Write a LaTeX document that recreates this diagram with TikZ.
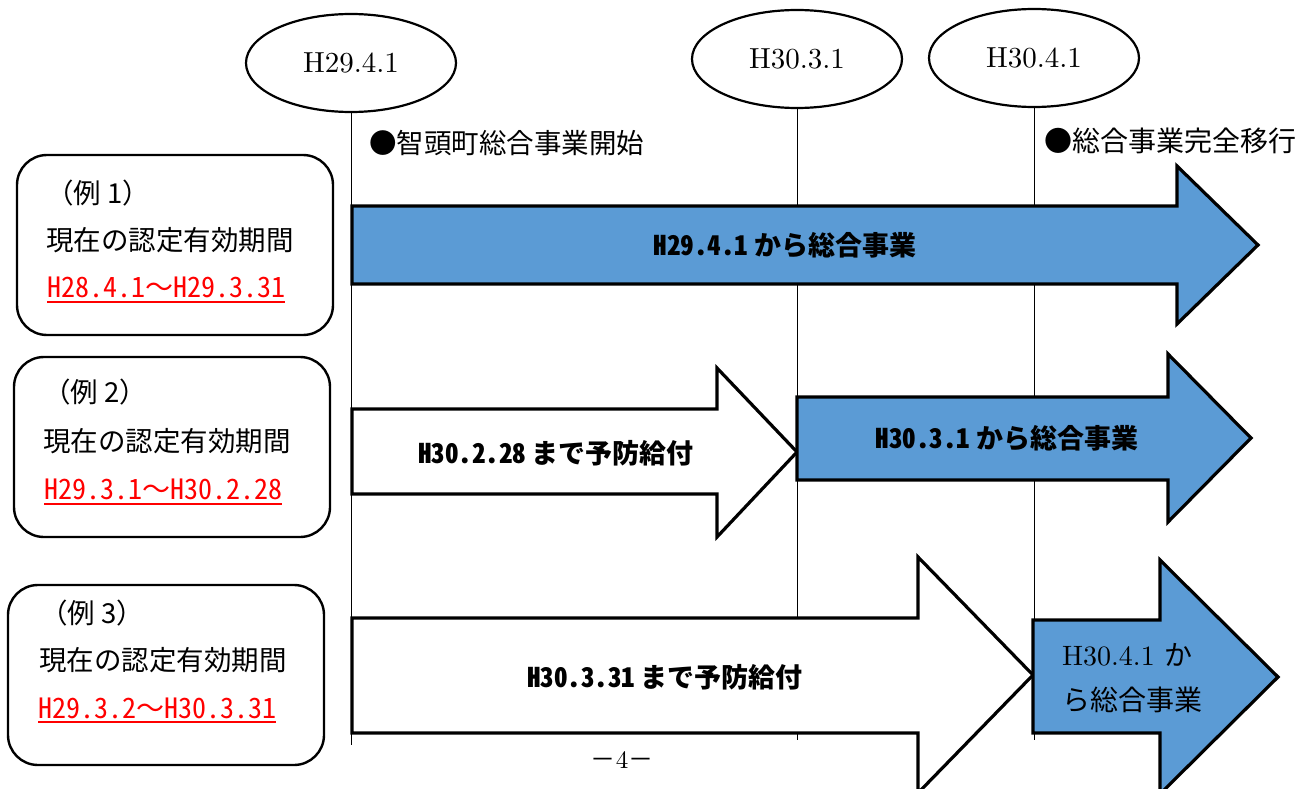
\documentclass[tikz,border=0pt]{standalone}
\usepackage{fontspec}
\newfontfamily\jp{Noto Sans CJK JP}
\newfontfamily\jphw[CharacterWidth=Half]{Noto Sans CJK JP}
\newfontfamily\lmten{lmroman10-regular.otf}
\usetikzlibrary{shapes.geometric}

\definecolor{barblue}{RGB}{91,155,213}
\definecolor{datered}{RGB}{255,0,0}

\tikzset{
	dateoval/.style={ellipse, draw, line width=2.2pt, minimum width=210pt, minimum height=98pt, inner sep=0pt, font=\lmten\fontsize{29}{34}\selectfont},
	tline/.style={line width=0.9pt},
	casebox/.style={draw, rounded corners=30pt, line width=2.4pt, minimum width=316pt, minimum height=180pt},
	boxtext/.style={anchor=west, inner sep=0pt, font=\jp\fontsize{27.5}{32}\selectfont},
	periodtext/.style={anchor=west, inner sep=0pt, text=datered, font=\jphw\fontsize{28}{32}\selectfont},
	periodline/.style={datered, line width=1.8pt},
	bluearrow/.style={draw, line width=3.2pt, fill=barblue},
	whitearrow/.style={draw, line width=3.2pt, fill=white},
	barlabel/.style={inner sep=0pt, font=\jphw\bfseries\fontsize{27}{32}\selectfont},
	headtext/.style={anchor=west, inner sep=0pt}
}

\begin{document}
\begin{tikzpicture}[x=1pt, y=-1pt]
	\useasboundingbox (0,0) rectangle (1310,789);
	
	\node[dateoval] (t1) at (351,63) {H29.4.1};
	\node[dateoval] (t2) at (797,59) {H30.3.1};
	\node[dateoval] (t3) at (1034,58) {H30.4.1};
	
	\coordinate (t1end) at (351,745);
	\coordinate (t2end) at (797,740);
	\coordinate (t3end) at (1034,740);
	\draw[tline] (t1.south) -- (t1end);
	\draw[tline] (t2.south) -- (t2end);
	\draw[tline] (t3.south) -- (t3end);
	
	\node[headtext, font=\jp\fontsize{27.5}{32}\selectfont] (start) at (369,143) {●智頭町総合事業開始};
	\node[headtext, font=\jp\fontsize{28}{34}\selectfont] (full) at (1044,141) {●総合事業完全移行};
	
	\node[casebox] (ex1) at (175,245) {};
	\node[boxtext] (ex1a) at (46,193) {（例 1）};
	\node[boxtext] (ex1b) at (46,240) {現在の認定有効期間};
	\node[periodtext] (ex1c) at (47,287) {H28.4.1{\jp ～}H29.3.31};
	\draw[periodline] ([yshift=-15pt]ex1c.west) -- ([yshift=-15pt]ex1c.east);
	
	\node[casebox] (ex2) at (172,447) {};
	\node[boxtext] (ex2a) at (43,392) {（例 2）};
	\node[boxtext] (ex2b) at (43,441) {現在の認定有効期間};
	\node[periodtext] (ex2c) at (44,489) {H29.3.1{\jp ～}H30.2.28};
	\draw[periodline] ([yshift=-15pt]ex2c.west) -- ([yshift=-15pt]ex2c.east);
	
	\node[casebox] (ex3) at (166,675) {};
	\node[boxtext] (ex3a) at (40,613) {（例 3）};
	\node[boxtext] (ex3b) at (39,660) {現在の認定有効期間};
	\node[periodtext] (ex3c) at (38,708) {H29.3.2{\jp ～}H30.3.31};
	\draw[periodline] ([yshift=-14pt]ex3c.west) -- ([yshift=-14pt]ex3c.east);
	
	\draw[bluearrow] (352,206) -- (1177,206) -- (1177,166) -- (1258,245) -- (1177,324) -- (1177,284) -- (352,284) -- cycle;
	\node[barlabel] (bar1) at (785,245) {H29.4.1\hspace{6pt}から総合事業};
	
	\draw[whitearrow] (352,409) -- (717,409) -- (717,368) -- (797,452) -- (717,537) -- (717,494) -- (352,494) -- cycle;
	\draw[bluearrow] (797,397) -- (1168,397) -- (1168,354) -- (1251,438) -- (1168,522) -- (1168,480) -- (797,480) -- cycle;
	\node[barlabel] (bar2a) at (556,453) {H30.2.28\hspace{6pt}まで予防給付};
	\node[barlabel] (bar2b) at (1007,438) {H30.3.1\hspace{6pt}から総合事業};
	
	\draw[whitearrow] (352,618) -- (918,618) -- (918,557) -- (1033,675) -- (918,793) -- (918,733) -- (352,733) -- cycle;
	\draw[bluearrow] (1033,620) -- (1160,620) -- (1160,560) -- (1278,677) -- (1160,794) -- (1160,733) -- (1033,733) -- cycle;
	\node[barlabel] (bar3a) at (665,677) {H30.3.31\hspace{6pt}まで予防給付};
	\node[headtext, font=\lmten\fontsize{28}{34}\selectfont] (bar3b) at (1062,655) {H30.4.1 {\jp\fontsize{28}{32}\selectfont か}};
	\node[headtext, font=\jp\fontsize{28}{32}\selectfont] (bar3c) at (1062,700) {ら総合事業};
	
	\node[font=\lmten\fontsize{25}{30}\selectfont] (page) at (622,760) {{\jp －}4{\jp －}};
\end{tikzpicture}
\end{document}
